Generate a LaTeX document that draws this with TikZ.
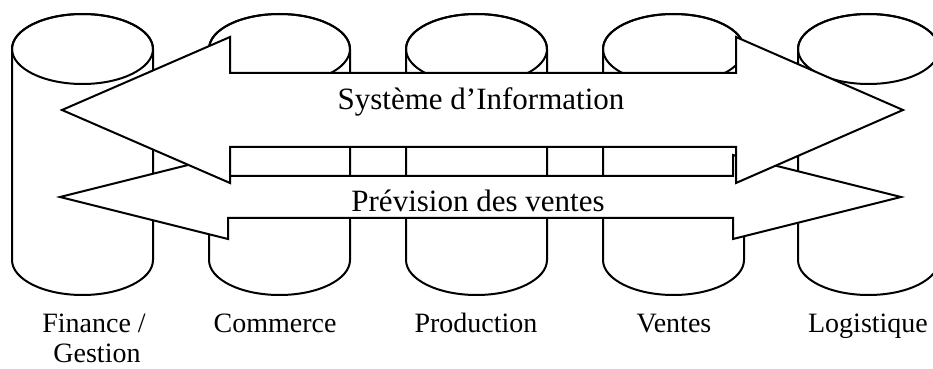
\documentclass[tikz,border=0pt]{standalone}
\usepackage{fontspec}
\setmainfont{Liberation Serif}
\usepackage{tikz}

\tikzset{
  cyl/.style={draw,fill=white,line width=1pt},
  bigarrow/.style={draw,fill=white,line width=1pt,line join=miter},
  arrowtext/.style={inner sep=0pt,anchor=base,font=\fontsize{15.5}{18}\selectfont},
  dept/.style={inner sep=0pt,anchor=base,font=\fontsize{14}{17}\selectfont}
}

\begin{document}
\begin{tikzpicture}[x=0.5pt,y=-0.5pt]
  \useasboundingbox (0,0) rectangle (933,369);
  % the five cylinders
  \foreach \l in {12,209,406,603,798} {
    \filldraw[cyl] (\l,49) -- (\l,260)
      arc[start angle=180,end angle=0,x radius=70.5,y radius=35]
      -- (\l+141,49)
      arc[start angle=0,end angle=-180,x radius=70.5,y radius=35] -- cycle;
    \draw[line width=1pt] (\l+70.5,49) ellipse [x radius=70.5,y radius=35];
  }
  % the two double arrows
  \draw[bigarrow] (60,197) -- (228,155) -- (228,176) -- (733,176) --
        (733,155) -- (901,197) -- (733,239) -- (733,218) -- (228,218) --
        (228,239) -- cycle;
  \draw[bigarrow] (62,110) -- (230,37) -- (230,73) -- (736,73) --
        (736,37) -- (903,110) -- (736,183) -- (736,147) -- (230,147) --
        (230,183) -- cycle;
  \node[arrowtext] (si) at (481,110) {Système d’Information};
  \node[arrowtext] (prev) at (478,212) {Prévision des ventes};
  % labels under the cylinders
  \node[dept] (finance) at (94,332) {Finance /};
  \node[dept] (gestion) at (97,363) {Gestion};
  \node[dept] (commerce) at (275,332) {Commerce};
  \node[dept] (production) at (476,332) {Production};
  \node[dept] (ventes) at (674,332) {Ventes};
  \node[dept] (logistique) at (868,332) {Logistique};
\end{tikzpicture}
\end{document}
